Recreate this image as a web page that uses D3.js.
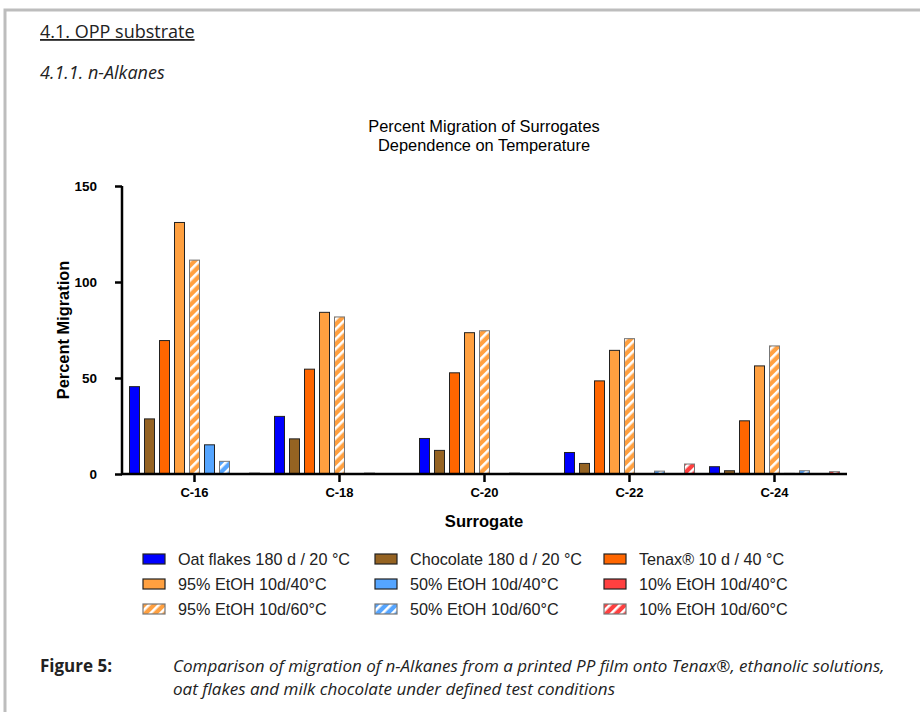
<!DOCTYPE html>
<html>
<head>
<meta charset="utf-8">
<script src="https://cdn.jsdelivr.net/npm/d3@7"></script>
<style>
  body { margin: 0; background: #fff; }
  svg { display: block; }
</style>
</head>
<body>
<svg id="fig" width="920" height="712"></svg>
<script>
// categories and series
var surrogates = ["C-16", "C-18", "C-20", "C-22", "C-24"];
var seriesNames = ["Oat flakes 180 d / 20 °C", "Chocolate 180 d / 20 °C", "Tenax® 10 d / 40 °C",
                   "95% EtOH 10d/40°C", "95% EtOH 10d/60°C", "50% EtOH 10d/40°C",
                   "50% EtOH 10d/60°C", "10% EtOH 10d/40°C", "10% EtOH 10d/60°C"];
var oatFlakes  = [45.5, 30.0, 18.5, 11.2, 3.8];
var chocolate  = [28.7, 18.3, 12.3, 5.5, 1.7];
var tenax      = [69.5, 54.6, 52.7, 48.5, 27.7];
var etoh95_40  = [131.0, 84.2, 73.6, 64.4, 56.3];
var etoh95_60  = [111.4, 81.8, 74.6, 70.5, 66.7];
var etoh50_40  = [15.2, 0, 0, 0, 0.3];
var etoh50_60  = [6.6, 0.5, 0.5, 1.5, 1.7];
var etoh10_40  = [0, 0, 0, 0, 0];
var etoh10_60  = [0.5, 0, 0, 5.2, 1.2];
var yTicks = [0, 50, 100, 150];

var seriesValues = [oatFlakes, chocolate, tenax, etoh95_40, etoh95_60, etoh50_40, etoh50_60, etoh10_40, etoh10_60];
var seriesColors = ["#0000ff", "#956322", "#ff6600", "#ffa040", "#ffa040", "#55a5ff", "#55a5ff", "#ff4040", "#ff4040"];
var seriesHatched = [false, false, false, false, true, false, true, false, true];
// legend position of each series: [row, col]
var legendCell = [[0,0],[0,1],[0,2],[1,0],[2,0],[1,1],[2,1],[1,2],[2,2]];

var svg = d3.select('#fig');
var defs = svg.append('defs');

// hatch patterns, one per hatched colour
seriesColors.forEach(function(c, i){
    if(!seriesHatched[i]) return;
    var p = defs.append('pattern')
        .attr('id', 'hatch' + i)
        .attr('patternUnits', 'userSpaceOnUse')
        .attr('width', 7).attr('height', 7)
        .attr('patternTransform', 'rotate(45)');
    p.append('rect').attr('width', 7).attr('height', 7).attr('fill', c);
    p.append('rect').attr('x', 0).attr('width', 2.6).attr('height', 7).attr('fill', '#fff');
});
function fillOf(i){ return seriesHatched[i] ? 'url(#hatch' + i + ')' : seriesColors[i]; }
function strokeOf(i){ return seriesHatched[i] ? '#777' : '#222'; }

// page frame
svg.append('path')
    .attr('d', 'M5,712 L5,10 L920,10')
    .attr('fill', 'none').attr('stroke', '#bdbdbd').attr('stroke-width', 3);

var docFont = "'Open Sans', sans-serif";
var chartFont = "'Liberation Sans', Arial, sans-serif";

svg.append('text').attr('x', 40).attr('y', 38)
    .style('font-family', docFont).style('font-size', '18px')
    .style('text-decoration', 'underline').attr('fill', '#222')
    .text('4.1. OPP substrate');
svg.append('text').attr('x', 40).attr('y', 79)
    .style('font-family', docFont).style('font-size', '18px').style('font-style', 'italic')
    .attr('fill', '#222')
    .text('4.1.1. n-Alkanes');

// chart title
svg.append('text').attr('x', 484).attr('y', 132).attr('text-anchor', 'middle')
    .style('font-family', chartFont).style('font-size', '16.4px')
    .text('Percent Migration of Surrogates');
svg.append('text').attr('x', 484).attr('y', 151).attr('text-anchor', 'middle')
    .style('font-family', chartFont).style('font-size', '16.4px')
    .text('Dependence on Temperature');

// scales
var x0 = d3.scaleBand().domain(surrogates).range([122, 847]).padding(0);
var x1 = d3.scaleBand().domain(d3.range(seriesNames.length)).range([0, x0.bandwidth()])
    .paddingInner(1/3).paddingOuter(0.5);
var y = d3.scaleLinear().domain([0, 150]).range([474, 186]);

// bars
var groups = svg.append('g').selectAll('g')
    .data(surrogates)
    .enter().append('g')
    .attr('transform', function(d){ return 'translate(' + x0(d) + ',0)'; });
groups.selectAll('rect')
    .data(function(d, gi){ return seriesValues.map(function(v, si){ return {s: si, v: v[gi]}; }); })
    .enter().append('rect')
    .filter(function(d){ return d.v > 0; })
    .attr('x', function(d){ return x1(d.s); })
    .attr('width', x1.bandwidth())
    .attr('y', function(d){ return y(d.v); })
    .attr('height', function(d){ return y(0) - y(d.v); })
    .attr('fill', function(d){ return fillOf(d.s); })
    .attr('stroke', function(d){ return strokeOf(d.s); })
    .attr('stroke-width', 1);

// y axis
var yAxis = svg.append('g').attr('transform', 'translate(122,0)')
    .call(d3.axisLeft(y).tickValues(yTicks).tickSize(7).tickPadding(18));
yAxis.select('.domain').attr('stroke-width', 2.5).attr('d', 'M0,' + y(150) + 'V' + y(0));
yAxis.selectAll('.tick line').attr('stroke-width', 2.5);
yAxis.selectAll('text').style('font-family', chartFont).style('font-size', '13.5px')
    .style('font-weight', 'bold').attr('fill', '#000');

// x axis
var xAxis = svg.append('g').attr('transform', 'translate(0,474)')
    .call(d3.axisBottom(x0).tickSize(8).tickPadding(6));
xAxis.select('.domain').attr('stroke-width', 2.5).attr('d', 'M121,0H847');
xAxis.selectAll('.tick line').attr('stroke-width', 2.5);
xAxis.selectAll('text').style('font-family', chartFont).style('font-size', '13px')
    .style('font-weight', 'bold').attr('fill', '#000');

svg.append('text')
    .attr('transform', 'translate(69,330) rotate(-90)').attr('text-anchor', 'middle')
    .style('font-family', chartFont).style('font-size', '16.4px').style('font-weight', 'bold')
    .text('Percent Migration');
svg.append('text').attr('x', 484).attr('y', 527).attr('text-anchor', 'middle')
    .style('font-family', chartFont).style('font-size', '16.6px').style('font-weight', 'bold')
    .text('Surrogate');

// legend
var legendColX = [143, 375, 604];
var legendRowY = [559, 584, 609];
var leg = svg.append('g').selectAll('g')
    .data(seriesNames)
    .enter().append('g')
    .attr('transform', function(d, i){
        return 'translate(' + legendColX[legendCell[i][1]] + ',' + legendRowY[legendCell[i][0]] + ')';
    });
leg.append('rect')
    .attr('x', 0).attr('y', -5).attr('width', 22).attr('height', 10)
    .attr('fill', function(d, i){ return fillOf(i); })
    .attr('stroke', function(d, i){ return strokeOf(i); })
    .attr('stroke-width', 1.2);
leg.append('text')
    .attr('x', 35).attr('y', 6)
    .style('font-family', chartFont).style('font-size', '16.2px').attr('fill', '#222')
    .text(function(d){ return d; });

// caption
svg.append('text').attr('x', 40).attr('y', 672)
    .style('font-family', docFont).style('font-size', '17px').style('font-weight', 'bold')
    .attr('fill', '#222').text('Figure 5:');
svg.append('text').attr('x', 173).attr('y', 672)
    .style('font-family', docFont).style('font-size', '17px').style('font-style', 'italic')
    .attr('fill', '#222')
    .text('Comparison of migration of n-Alkanes from a printed PP film onto Tenax®, ethanolic solutions,');
svg.append('text').attr('x', 173).attr('y', 695)
    .style('font-family', docFont).style('font-size', '17px').style('font-style', 'italic')
    .attr('fill', '#222')
    .text('oat flakes and milk chocolate under defined test conditions');
</script>
</body>
</html>
